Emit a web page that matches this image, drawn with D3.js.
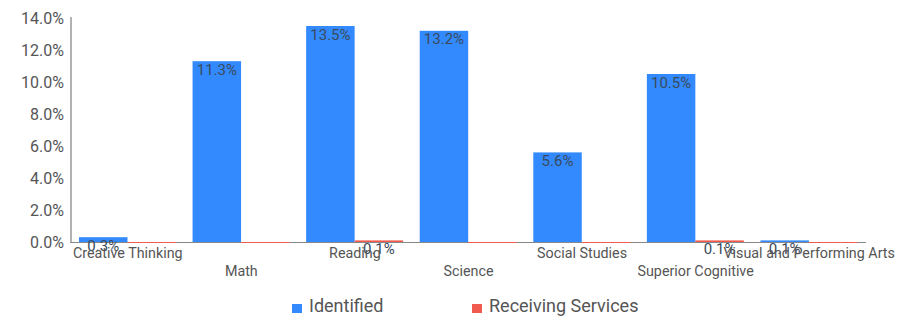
<!DOCTYPE html>
<html>
<head>
<meta charset="utf-8">
<script src="https://cdn.jsdelivr.net/npm/d3@7"></script>
<style>
  body { margin: 0; background: #fff; }
  text { font-family: Roboto, "Open Sans", sans-serif; }
</style>
</head>
<body>
<script>
// chart data
var categories = ["Creative Thinking", "Math", "Reading", "Science", "Social Studies", "Superior Cognitive", "Visual and Performing Arts"];
var seriesNames = ["Identified", "Receiving Services"];
var identified = [0.3, 11.3, 13.5, 13.2, 5.6, 10.5, 0.1];
var receiving = [0, 0, 0.1, 0, 0, 0.1, 0];
var yTicks = [0, 2, 4, 6, 8, 10, 12, 14];
var colors = ["#338aff", "#f15b4f"];

var width = 917, height = 318;
var svg = d3.select("body").append("svg")
    .attr("width", width)
    .attr("height", height);

var x0 = d3.scaleBand().domain(categories).range([71, 866]);
var x1 = d3.scaleBand().domain(seriesNames).range([8, x0.bandwidth() - 8.6]);
var y = d3.scaleLinear().domain([0, 14]).range([242, 18]);

var rows = categories.map((c, i) => ({cat: c, vals: [identified[i], receiving[i]]}));

// y axis labels
svg.append("g").selectAll("text").data(yTicks).enter()
    .append("text")
    .attr("x", 64)
    .attr("y", d => y(d) + 5.5)
    .attr("text-anchor", "end")
    .attr("font-size", 16)
    .attr("fill", "#555")
    .text(d => d.toFixed(1) + "%");

// axes lines
svg.append("line")
    .attr("x1", 71).attr("x2", 71)
    .attr("y1", 17).attr("y2", 243)
    .attr("stroke", "#888").attr("stroke-width", 1.3);
svg.append("line")
    .attr("x1", 70.5).attr("x2", 866)
    .attr("y1", 242.5).attr("y2", 242.5)
    .attr("stroke", "#888").attr("stroke-width", 1);

// bars (zero values still show as a 1px line on the axis)
var groups = svg.selectAll("g.cat").data(rows).enter()
    .append("g")
    .attr("class", "cat")
    .attr("transform", d => "translate(" + x0(d.cat) + ",0)");

groups.selectAll("rect").data(d => d.vals).enter()
    .append("rect")
    .attr("x", (d, i) => x1(seriesNames[i]))
    .attr("width", x1.bandwidth())
    .attr("y", d => d > 0 ? y(d) : y(0))
    .attr("height", d => d > 0 ? y(0) - y(d) : 1)
    .attr("fill", (d, i) => colors[i]);

groups.selectAll("text.val").data(d => d.vals).enter()
    .filter(d => d > 0)
    .append("text")
    .attr("class", "val")
    .attr("x", (d, i) => x1(seriesNames[i]) + x1.bandwidth() / 2)
    .attr("y", d => y(d) + 13.5)
    .attr("text-anchor", "middle")
    .attr("font-size", 15)
    .attr("fill", "#3a4a5c")
    .text(d => d.toFixed(1) + "%");

// category labels, staggered
svg.append("g").selectAll("text").data(categories).enter()
    .append("text")
    .attr("x", d => x0(d) + x0.bandwidth() / 2)
    .attr("y", (d, i) => i % 2 ? 276 : 258)
    .attr("text-anchor", "middle")
    .attr("font-size", 14.3)
    .attr("fill", "#555")
    .text(d => d);

// legend
var legendX = [292, 472];
var legend = svg.append("g").selectAll("g").data(seriesNames).enter()
    .append("g")
    .attr("transform", (d, i) => "translate(" + legendX[i] + ",0)");
legend.append("rect")
    .attr("x", 0).attr("y", 304)
    .attr("width", 10).attr("height", 9)
    .attr("fill", (d, i) => colors[i]);
legend.append("text")
    .attr("x", 17).attr("y", 312)
    .attr("font-size", 18)
    .attr("fill", "#555")
    .text(d => d);
</script>
</body>
</html>
